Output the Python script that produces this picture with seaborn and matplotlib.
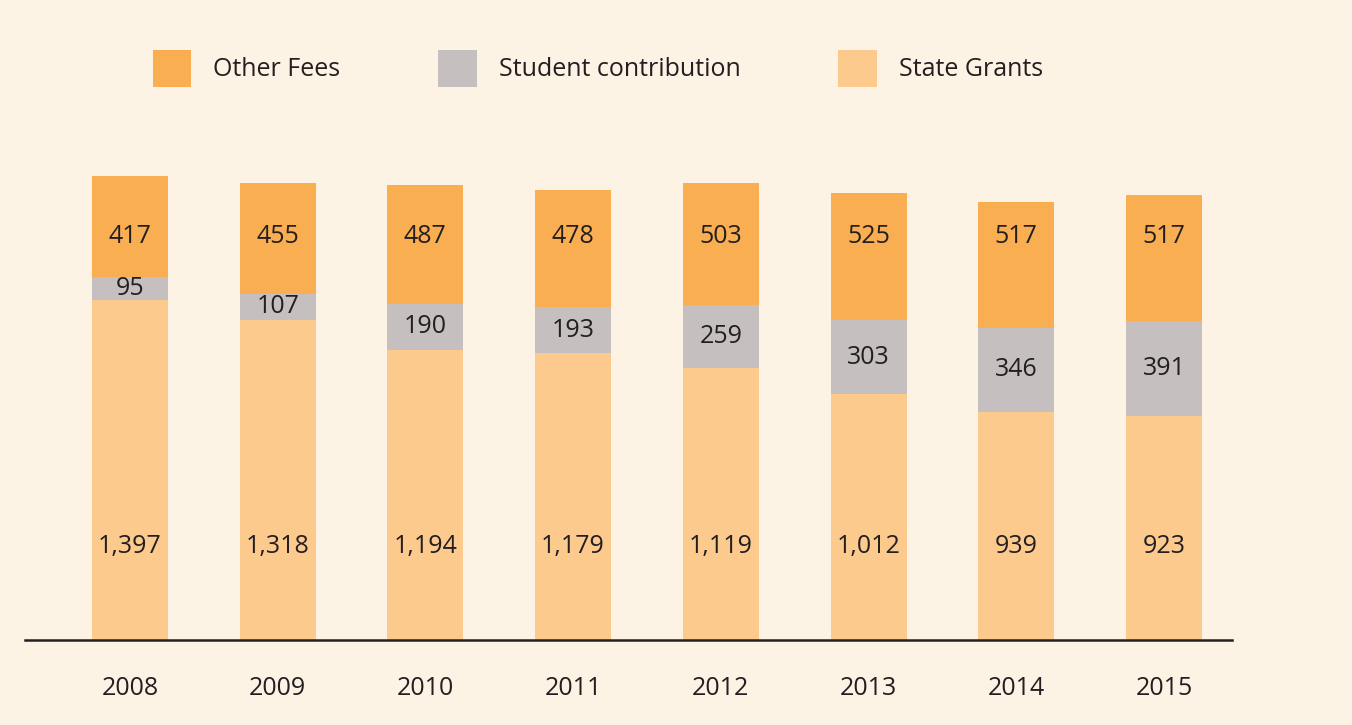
import pandas as pd
import numpy as np
import matplotlib
matplotlib.use("Agg")
import matplotlib.pyplot as plt
import matplotlib.transforms as mtransforms
from matplotlib.patches import Patch
import seaborn as sns

# data
years = ["2008", "2009", "2010", "2011", "2012", "2013", "2014", "2015"]
state_grants = [1397, 1318, 1194, 1179, 1119, 1012, 939, 923]
student_contribution = [95, 107, 190, 193, 259, 303, 346, 391]
other_fees = [417, 455, 487, 478, 503, 525, 517, 517]

bg = "#FDF3E5"
c_other = "#F9AE52"
c_student = "#C5BFBF"
c_state = "#FDCA8E"
txt = "#231F20"

sns.set_theme(style="white")
plt.rcParams["font.family"] = ["Open Sans", "DejaVu Sans"]

df = pd.DataFrame({"year": years, "state": state_grants,
                   "student": student_contribution, "other": other_fees})
df["lvl2"] = df["state"] + df["student"]
df["lvl3"] = df["lvl2"] + df["other"]

fig = plt.figure(figsize=(13.52, 7.25), dpi=100, facecolor=bg)
ax = fig.add_axes([25 / 1352, 1 - 640 / 725, (1232 - 25) / 1352, 540 / 725])
ax.set_facecolor(bg)

# stacked bars: draw cumulative totals, then overlay lower layers
w = 0.515
sns.barplot(data=df, x="year", y="lvl3", color=c_other, width=w, ax=ax,
            saturation=1, linewidth=0)
sns.barplot(data=df, x="year", y="lvl2", color=c_student, width=w, ax=ax,
            saturation=1, linewidth=0)
sns.barplot(data=df, x="year", y="state", color=c_state, width=w, ax=ax,
            saturation=1, linewidth=0)

ax.set_xlim(-0.71, 7.46)
ax.set_ylim(0, 2222)

# value labels
trans = mtransforms.blended_transform_factory(ax.transData, ax.transAxes)
for i, r in df.iterrows():
    ax.text(i, 0.748, f"{r['other']:,}", transform=trans, ha="center", va="center",
            fontsize=18, color=txt)
    ax.text(i, r["state"] + r["student"] / 2, f"{r['student']:,}", ha="center",
            va="center", fontsize=18, color=txt)
    ax.text(i, 0.174, f"{r['state']:,}", transform=trans, ha="center", va="center",
            fontsize=18, color=txt)

for s in ["top", "right", "left"]:
    ax.spines[s].set_visible(False)
ax.spines["bottom"].set_color(txt)
ax.spines["bottom"].set_linewidth(1.8)
ax.set_yticks([])
ax.set_xlabel("")
ax.set_ylabel("")
ax.tick_params(axis="x", length=0, pad=26, labelsize=18, labelcolor=txt)

handles = [Patch(facecolor=c_other, edgecolor="none", label="Other Fees"),
           Patch(facecolor=c_student, edgecolor="none", label="Student contribution"),
           Patch(facecolor=c_state, edgecolor="none", label="State Grants")]
fig.legend(handles=handles, loc="upper left", bbox_to_anchor=(140 / 1352, 1 - 37 / 725),
           ncol=3, frameon=False, fontsize=18, handlelength=1.55, handleheight=1.95,
           handletextpad=0.88, columnspacing=3.9, borderpad=0, labelcolor=txt)

fig.savefig("out.png", dpi=100, facecolor=bg)
